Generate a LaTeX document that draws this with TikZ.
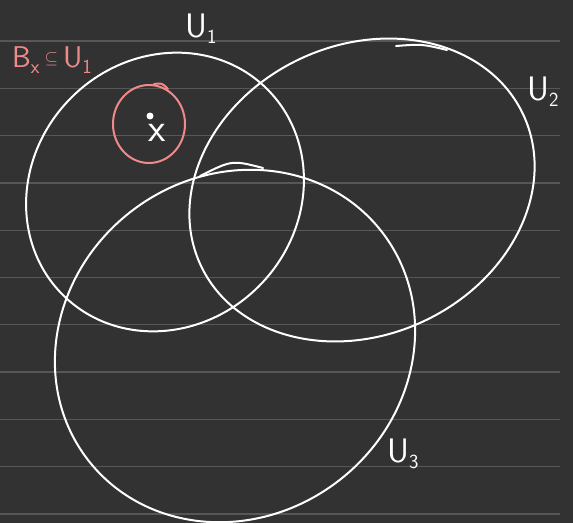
\documentclass[tikz,border=0pt]{standalone}
\usetikzlibrary{positioning}
\definecolor{boardBg}{HTML}{323232}
\definecolor{ruleGrey}{HTML}{575757}
\definecolor{chalkPink}{HTML}{F08A8A}
\newcommand\withsub[2]{#1\raisebox{-.2em}{\fontsize{20}{20}\selectfont #2}}

\begin{document}
\begin{tikzpicture}[
  x=1pt, y=-1pt,
  rule/.style={draw=ruleGrey, line width=1.3pt},
  setline/.style={draw=white, line width=2pt, line cap=round, line join=round},
  ballline/.style={draw=chalkPink, line width=2pt, line cap=round, line join=round},
  setname/.style={text=white, inner sep=0pt, anchor=base west, font=\sffamily\fontsize{34}{34}\selectfont}
]
\fill[boardBg] (0,0) rectangle (573,523);
\useasboundingbox (0,0) rectangle (573,523);

% ruled paper
\foreach \k in {0,...,10}
  \draw[rule] (0,{41+47.3*\k}) -- (560,{41+47.3*\k});

% the open sets U_1, U_2, U_3
\coordinate (c1) at (165,192);
\coordinate (c2) at (362,190);
\coordinate (c3) at (235,346);
\draw[setline, rotate around={46:(c1)}] (c1) ellipse [x radius=145, y radius=133];
\draw[setline, rotate around={25:(c2)}] (c2) ellipse [x radius=178, y radius=145];
\draw[setline, rotate around={38:(c3)}] (c3) ellipse [x radius=186, y radius=170];
% pen overlaps
\draw[setline] (396,46) .. controls (422,44) .. (447,50);
\draw[setline] (200,176) .. controls (232,160) .. (263,168);

% ball B_x round x
\coordinate (cb) at (149,124);
\draw[ballline] (cb) ellipse [x radius=36, y radius=39];
\draw[ballline] (154,84) .. controls (162,83) .. (168,89);
\node[circle, fill=white, inner sep=0pt, minimum size=7pt] (ptx) at (150,116) {};
\node[text=white, inner sep=0pt, font=\sffamily\fontsize{40}{40}\selectfont] (xname) at (157,133) {x};

% labels
\node[setname] (u1name) at (185,37) {\withsub{U}{1}};
\node[setname] (u2name) at (527,100) {\withsub{U}{2}};
\node[setname] (u3name) at (387,462) {\withsub{U}{3}};
\node[setname, text=chalkPink, font=\sffamily\fontsize{30}{30}\selectfont] (ballname) at (12,67)
  {\withsub{B}{x}\,\raisebox{4pt}{\fontsize{18}{18}\selectfont$\subseteq$}\,\withsub{U}{1}};
\end{tikzpicture}
\end{document}
